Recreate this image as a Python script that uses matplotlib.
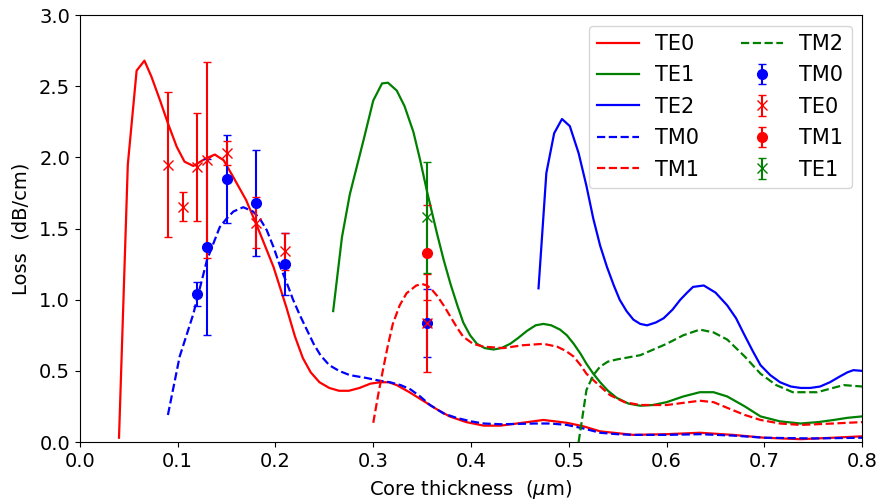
import matplotlib
matplotlib.use("Agg")
import matplotlib.pyplot as plt

# simulated loss curves (core thickness in um, loss in dB/cm)
te0_x = [0.040, 0.049, 0.058, 0.066, 0.073, 0.082, 0.090, 0.099, 0.107, 0.116, 0.128, 0.138, 0.147,
         0.157, 0.170, 0.184, 0.198, 0.211, 0.220, 0.228, 0.236, 0.245, 0.255, 0.265, 0.275, 0.286,
         0.297, 0.307, 0.316, 0.324, 0.337, 0.351, 0.365, 0.378, 0.395, 0.413, 0.430, 0.447, 0.474,
         0.498, 0.515, 0.532, 0.566, 0.600, 0.634, 0.668, 0.700, 0.737, 0.770, 0.800]
te0_y = [0.03, 1.95, 2.61, 2.68, 2.57, 2.40, 2.24, 2.075, 1.97, 1.94, 1.99, 2.02, 1.98,
         1.86, 1.70, 1.47, 1.23, 0.95, 0.74, 0.59, 0.49, 0.42, 0.38, 0.36, 0.36, 0.38,
         0.41, 0.42, 0.42, 0.40, 0.35, 0.29, 0.23, 0.18, 0.14, 0.115, 0.115, 0.13, 0.155,
         0.135, 0.11, 0.075, 0.05, 0.055, 0.065, 0.05, 0.03, 0.02, 0.03, 0.04]

te1_x = [0.259, 0.268, 0.276, 0.290, 0.300, 0.309, 0.315, 0.324, 0.332, 0.341, 0.348, 0.355,
         0.365, 0.372, 0.379, 0.386, 0.392, 0.399, 0.406, 0.414, 0.423, 0.431, 0.440, 0.448,
         0.457, 0.466, 0.474, 0.482, 0.491, 0.498, 0.505, 0.512, 0.518, 0.525, 0.532, 0.540,
         0.549, 0.561, 0.573, 0.586, 0.600, 0.617, 0.634, 0.648, 0.662, 0.680, 0.696, 0.716,
         0.737, 0.755, 0.771, 0.785, 0.800]
te1_y = [0.92, 1.44, 1.74, 2.12, 2.40, 2.52, 2.525, 2.47, 2.36, 2.18, 1.98, 1.76,
         1.47, 1.28, 1.11, 0.96, 0.84, 0.75, 0.69, 0.66, 0.65, 0.66, 0.69, 0.73,
         0.78, 0.82, 0.83, 0.82, 0.79, 0.75, 0.69, 0.62, 0.55, 0.48, 0.42, 0.36,
         0.31, 0.27, 0.255, 0.26, 0.28, 0.32, 0.35, 0.35, 0.32, 0.25, 0.18, 0.145,
         0.13, 0.14, 0.155, 0.17, 0.18]

te2_x = [0.469, 0.477, 0.485, 0.493, 0.501, 0.510, 0.518, 0.525, 0.532, 0.539, 0.546, 0.552,
         0.559, 0.566, 0.573, 0.580, 0.589, 0.597, 0.606, 0.614, 0.621, 0.627, 0.638, 0.650,
         0.662, 0.671, 0.679, 0.688, 0.696, 0.706, 0.716, 0.727, 0.737, 0.747, 0.757, 0.767,
         0.777, 0.785, 0.791, 0.800]
te2_y = [1.08, 1.89, 2.17, 2.27, 2.22, 2.03, 1.80, 1.57, 1.38, 1.23, 1.10, 1.00,
         0.92, 0.86, 0.83, 0.82, 0.84, 0.87, 0.93, 1.00, 1.05, 1.09, 1.10, 1.05,
         0.96, 0.87, 0.76, 0.64, 0.54, 0.47, 0.42, 0.39, 0.38, 0.38, 0.39, 0.42,
         0.46, 0.49, 0.505, 0.50]

tm0_x = [0.090, 0.102, 0.116, 0.130, 0.143, 0.150, 0.157, 0.167, 0.177, 0.184, 0.191, 0.198,
         0.205, 0.212, 0.218, 0.225, 0.232, 0.239, 0.246, 0.255, 0.265, 0.276, 0.293, 0.307,
         0.317, 0.328, 0.338, 0.348, 0.358, 0.372, 0.385, 0.400, 0.413, 0.430, 0.447, 0.465,
         0.481, 0.498, 0.515, 0.532, 0.549, 0.566, 0.600, 0.634, 0.668, 0.700, 0.750, 0.800]
tm0_y = [0.19, 0.60, 0.90, 1.28, 1.51, 1.57, 1.62, 1.65, 1.62, 1.57, 1.49, 1.37,
         1.23, 1.11, 1.00, 0.89, 0.79, 0.69, 0.61, 0.54, 0.50, 0.47, 0.45, 0.43,
         0.42, 0.40, 0.37, 0.32, 0.26, 0.20, 0.17, 0.145, 0.13, 0.125, 0.127, 0.13,
         0.13, 0.12, 0.095, 0.065, 0.055, 0.05, 0.05, 0.055, 0.045, 0.03, 0.025, 0.03]

tm1_x = [0.300, 0.305, 0.310, 0.315, 0.320, 0.327, 0.334, 0.344, 0.350, 0.355, 0.360, 0.365,
         0.372, 0.379, 0.386, 0.392, 0.402, 0.413, 0.433, 0.453, 0.474, 0.488, 0.497, 0.505,
         0.512, 0.518, 0.529, 0.542, 0.557, 0.573, 0.600, 0.634, 0.648, 0.662, 0.680, 0.696,
         0.716, 0.737, 0.770, 0.800]
tm1_y = [0.135, 0.33, 0.51, 0.68, 0.83, 0.96, 1.045, 1.10, 1.11, 1.10, 1.07, 1.03,
         0.96, 0.88, 0.80, 0.74, 0.69, 0.67, 0.66, 0.68, 0.69, 0.67, 0.64, 0.60,
         0.54, 0.48, 0.41, 0.33, 0.28, 0.26, 0.26, 0.29, 0.28, 0.24, 0.19, 0.155,
         0.13, 0.12, 0.13, 0.14]

tm2_x = [0.510, 0.514, 0.518, 0.525, 0.532, 0.540, 0.549, 0.573, 0.600, 0.617, 0.634, 0.648,
         0.662, 0.680, 0.696, 0.712, 0.729, 0.754, 0.781, 0.800]
tm2_y = [0.00, 0.18, 0.365, 0.47, 0.53, 0.565, 0.58, 0.61, 0.69, 0.75, 0.79, 0.77,
         0.72, 0.60, 0.48, 0.40, 0.35, 0.35, 0.40, 0.39]

# measured points
m_tm0_x = [0.12, 0.13, 0.15, 0.18, 0.21, 0.355]
m_tm0_y = [1.04, 1.37, 1.85, 1.68, 1.25, 0.835]
m_tm0_e = [0.085, 0.62, 0.31, 0.375, 0.22, 0.24]

m_te0_x = [0.09, 0.105, 0.12, 0.13, 0.15, 0.18, 0.21, 0.355]
m_te0_y = [1.95, 1.655, 1.93, 1.98, 2.03, 1.54, 1.34, 0.837]
m_te0_e = [0.51, 0.105, 0.38, 0.69, 0.085, 0.18, 0.13, 0.345]

m_tm1_x = [0.355]
m_tm1_y = [1.33]
m_tm1_e = [0.335]

m_te1_x = [0.355]
m_te1_y = [1.58]
m_te1_e = [0.39]

plt.rcParams['font.size'] = 14

fig = plt.figure(figsize=(8.78, 5.04), dpi=100)
ax = fig.add_axes([0.091, 0.123, 0.891, 0.847])

lw = 1.6
ax.plot(te0_x, te0_y, 'r-', lw=lw, label='TE0')
ax.plot(te1_x, te1_y, 'g-', lw=lw, label='TE1')
ax.plot(te2_x, te2_y, 'b-', lw=lw, label='TE2')
ax.plot(tm0_x, tm0_y, 'b--', lw=lw, label='TM0')
ax.plot(tm1_x, tm1_y, 'r--', lw=lw, label='TM1')
ax.plot(tm2_x, tm2_y, 'g--', lw=lw, label='TM2')

ax.errorbar(m_tm0_x, m_tm0_y, yerr=m_tm0_e, fmt='bo', ms=7, capsize=3, elinewidth=1.5, label='TM0')
ax.errorbar(m_te0_x, m_te0_y, yerr=m_te0_e, fmt='rx', ms=7, capsize=3, elinewidth=1.5, label='TE0')
ax.errorbar(m_tm1_x, m_tm1_y, yerr=m_tm1_e, fmt='ro', ms=7, capsize=3, elinewidth=1.5, label='TM1')
ax.errorbar(m_te1_x, m_te1_y, yerr=m_te1_e, fmt='gx', ms=7, capsize=3, elinewidth=1.5, label='TE1')

ax.set_xlim(0, 0.8)
ax.set_ylim(0, 3.0)
ax.set_xlabel(r'Core thickness  ($\mu$m)', labelpad=5)
ax.set_ylabel('Loss  (dB/cm)', labelpad=6)
ax.legend(ncol=2, loc='upper right', fontsize=15, labelspacing=0.55)

fig.savefig('out.png')
